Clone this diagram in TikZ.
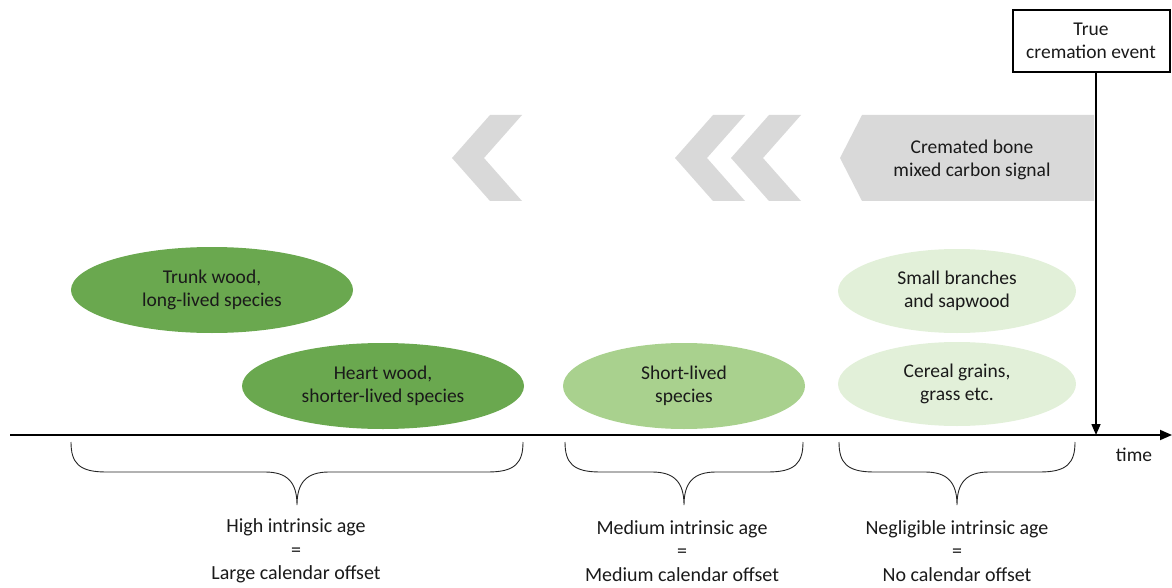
\documentclass[tikz,border=0pt]{standalone}
\usepackage{fontspec}
\setmainfont{Carlito}
\usetikzlibrary{shapes.geometric,arrows.meta}
\definecolor{darkgreen}{HTML}{6AA84F}
\definecolor{midgreen}{HTML}{A9D18E}
\definecolor{lightgreen}{HTML}{E2F0D9}
\definecolor{chevgray}{HTML}{D9D9D9}
\definecolor{txt}{HTML}{1A1A1A}
\tikzset{
  every node/.style={font=\fontsize{19.5}{23}\selectfont, text=txt, align=center},
  oval/.style={ellipse, inner sep=0pt, minimum width=#1},
  oval/.default=282pt,
  dgreen/.style={oval, fill=darkgreen, minimum height=86pt},
  mgreen/.style={oval=242pt, fill=midgreen, minimum height=86pt},
  lgreen/.style={oval=238pt, fill=lightgreen, minimum height=84pt},
  chev/.style={fill=chevgray},
  bracestyle/.style={line width=0.9pt, draw=black!85},
  axisarrow/.style={line width=1.8pt, -{Triangle[length=12pt,width=10pt]}},
  labeltext/.style={font=\fontsize{20}{23.5}\selectfont},
}
\begin{document}
\begin{tikzpicture}[x=1pt,y=-1pt]
\useasboundingbox (0,0) rectangle (1172,588);

% chevrons
\fill[chev] (490,115) -- (522,115) -- (484,158) -- (522,201) -- (490,201) -- (452,158) -- cycle;
\fill[chev] (713,115) -- (745,115) -- (707,158) -- (745,201) -- (713,201) -- (675,158) -- cycle;
\fill[chev] (769,115) -- (801,115) -- (763,158) -- (801,201) -- (769,201) -- (731,158) -- cycle;
\fill[chev] (862,115) -- (1094,115) -- (1094,201) -- (862,201) -- (840,158) -- cycle;
\node (bone) at (972,160) {Cremated bone\\mixed carbon signal};

% ellipses
\node[dgreen] (trunk) at (212,290) {Trunk wood,\\long-lived species};
\node[dgreen] (heart) at (383,386) {Heart wood,\\shorter-lived species};
\node[mgreen] (short) at (684,386) {Short-lived\\species};
\node[lgreen] (branch) at (957,291) {Small branches\\and sapwood};
\node[lgreen] (cereal) at (957,384) {Cereal grains,\\grass etc.};

% true event box
\node[draw=black, line width=2pt, minimum width=157pt, minimum height=62pt, inner sep=0pt] (event) at (1091,41) {True\\cremation event};

% axis
\coordinate (axstart) at (10,435);
\coordinate (axend) at (1172,435);
\coordinate (eventpt) at (1096,435);
\draw[axisarrow] (axstart) -- (axend);
\draw[line width=1.6pt, -{Triangle[length=11pt,width=9pt]}] (event.south -| eventpt) -- (eventpt);
\node (time) at (1134,455) {time};

% braces
\foreach \a/\b in {71/523, 565/803, 839/1075}{
  \pgfmathsetmacro{\m}{(\a+\b)/2}
  \draw[bracestyle] (\a,442) .. controls (\a,463) and (\a+8,472) .. (\a+35,472)
     -- (\m-32,472) .. controls (\m-10,472) and (\m,482) .. (\m,505)
     .. controls (\m,482) and (\m+10,472) .. (\m+32,472)
     -- (\b-35,472) .. controls (\b-8,472) and (\b,463) .. (\b,442);
}
\node[labeltext] (high) at (296,551) {High intrinsic age\\=\\Large calendar offset};
\node[labeltext] (med) at (682,551) {Medium intrinsic age\\=\\Medium calendar offset};
\node[labeltext] (negl) at (957,551) {Negligible intrinsic age\\=\\No calendar offset};
\end{tikzpicture}
\end{document}
